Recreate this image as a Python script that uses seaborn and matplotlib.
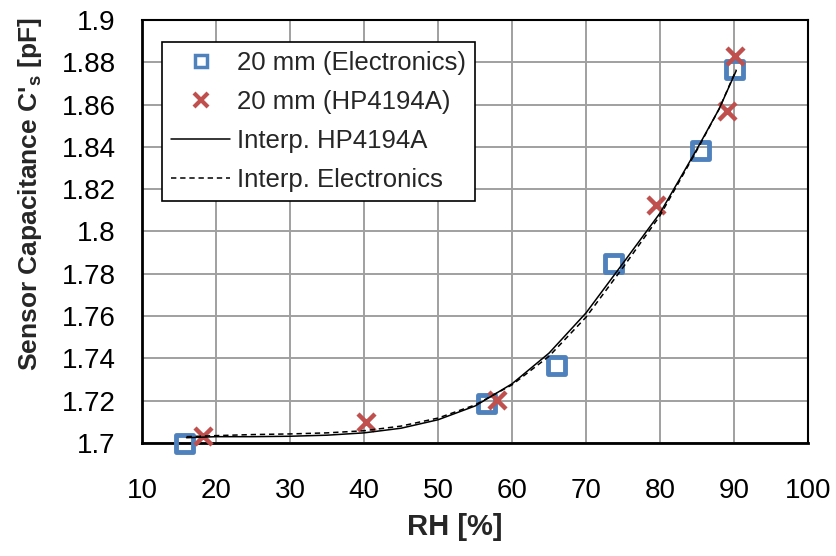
import matplotlib
matplotlib.use("Agg")
import matplotlib.pyplot as plt
from matplotlib.lines import Line2D
import seaborn as sns

# Measured points
rh_elec = [15.7, 56.6, 66.0, 73.7, 85.5, 90.1]
cs_elec = [1.700, 1.7185, 1.7365, 1.785, 1.8385, 1.8765]
rh_hp = [18.2, 40.2, 57.9, 79.5, 89.1, 90.1]
cs_hp = [1.7035, 1.7100, 1.7205, 1.8125, 1.8570, 1.8830]

# Interpolation curves
rh_interp_hp = [16, 20, 25, 30, 35, 40, 45, 50, 55, 60, 65, 70, 75, 80, 85, 88, 90.3]
cs_interp_hp = [1.7025, 1.7030, 1.7030, 1.7032, 1.7037, 1.7048, 1.7070, 1.7110, 1.7175,
                1.7280, 1.7425, 1.7615, 1.7850, 1.8087, 1.8390, 1.8580, 1.8760]
rh_interp_el = [16, 20, 25, 30, 35, 40, 45, 50, 55, 60, 65, 70, 75, 80, 85, 88, 90.3]
cs_interp_el = [1.7030, 1.7035, 1.7040, 1.7043, 1.7048, 1.7058, 1.7080, 1.7118, 1.7180,
                1.7275, 1.7410, 1.7595, 1.7830, 1.8075, 1.8385, 1.8580, 1.8765]

x_ticks = list(range(10, 101, 10))
y_ticks = [1.7, 1.72, 1.74, 1.76, 1.78, 1.8, 1.82, 1.84, 1.86, 1.88, 1.9]
y_ticklabels = ["1.7", "1.72", "1.74", "1.76", "1.78", "1.8", "1.82", "1.84", "1.86", "1.88", "1.9"]
legend_labels = ['20 mm (Electronics)', '20 mm (HP4194A)', 'Interp. HP4194A', 'Interp. Electronics']

sns.set_style("white")
plt.rcParams['font.family'] = ['Liberation Sans', 'DejaVu Sans']
plt.rcParams['mathtext.default'] = 'regular'

fig = plt.figure(figsize=(8.36, 5.56), dpi=100)
ax = fig.add_axes([0.170, 0.2032, 0.7965, 0.761])

blue = '#4f81bd'
red = '#c0504d'
dash = (0, (3.5, 2.5))

sns.scatterplot(x=rh_elec, y=cs_elec, ax=ax, marker='s', s=150, facecolor='none',
                edgecolor=blue, linewidth=3.5, zorder=3, clip_on=False, legend=False)
sns.scatterplot(x=rh_hp, y=cs_hp, ax=ax, marker='x', s=150, color=red,
                linewidth=3.2, zorder=4, clip_on=False, legend=False)
sns.lineplot(x=rh_interp_hp, y=cs_interp_hp, ax=ax, color='black', lw=1.1,
             sort=False, zorder=5, legend=False)
sns.lineplot(x=rh_interp_el, y=cs_interp_el, ax=ax, color='black', lw=1.1,
             linestyle=dash, sort=False, zorder=5, legend=False)

ax.set_xlim(10, 100)
ax.set_ylim(1.7, 1.9)
ax.set_xticks(x_ticks)
ax.set_yticks(y_ticks)
ax.set_yticklabels(y_ticklabels)
ax.tick_params(axis='both', labelsize=20, length=0, colors='black')
ax.tick_params(axis='x', pad=25)
ax.tick_params(axis='y', pad=19)
ax.grid(True, color='#a0a0a0', lw=1.4)
ax.set_axisbelow(True)
for s in ax.spines.values():
    s.set_color('black')
    s.set_linewidth(1.5)
ax.spines['bottom'].set_linewidth(2)
ax.spines['left'].set_linewidth(2)

ax.set_xlabel('RH [%]', fontsize=21, fontweight='bold')
ax.set_ylabel("Sensor Capacitance C'$_s$ [pF]", fontsize=19, fontweight='bold')
ax.xaxis.set_label_coords(0.47, -0.199)
ax.xaxis.label.set_va('center')
ax.yaxis.set_label_coords(-0.168, 0.589)
ax.yaxis.label.set_va('center')

h_el = Line2D([], [], linestyle='none', marker='s', markersize=9, markerfacecolor='none',
              markeredgecolor=blue, markeredgewidth=2.5)
h_hp = Line2D([], [], linestyle='none', marker='x', markersize=10, markeredgewidth=3, color=red)
h_l1 = Line2D([], [], color='black', lw=1.1)
h_l2 = Line2D([], [], color='black', lw=1.1, linestyle=dash)
leg = ax.legend([h_el, h_hp, h_l1, h_l2], legend_labels, loc='upper left',
                bbox_to_anchor=(0.03, 0.947), fontsize=18.5, frameon=True, fancybox=False,
                edgecolor='black', framealpha=1, handlelength=2.3, handletextpad=0.25,
                labelspacing=0.58, borderpad=0.35, borderaxespad=0)
leg.get_frame().set_linewidth(1.2)

fig.savefig('out.png', dpi=100)
